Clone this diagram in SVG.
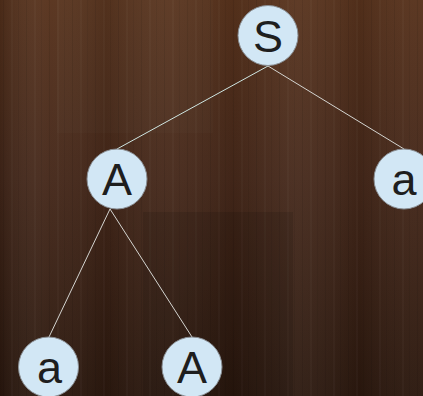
<svg xmlns="http://www.w3.org/2000/svg" width="423" height="396" viewBox="0 0 423 396">
<defs>
<linearGradient id="bg" x1="0" y1="0" x2="0" y2="1">
<stop offset="0" stop-color="#57321c"/>
<stop offset="0.45" stop-color="#45281a"/>
<stop offset="1" stop-color="#2b180e"/>
</linearGradient>
<linearGradient id="grain" x1="0" y1="0" x2="1" y2="0">
<stop offset="0" stop-color="#000" stop-opacity="0.15"/>
<stop offset="0.12" stop-color="#fff" stop-opacity="0.03"/>
<stop offset="0.25" stop-color="#000" stop-opacity="0.08"/>
<stop offset="0.4" stop-color="#fff" stop-opacity="0.04"/>
<stop offset="0.55" stop-color="#000" stop-opacity="0.06"/>
<stop offset="0.7" stop-color="#fff" stop-opacity="0.05"/>
<stop offset="0.85" stop-color="#000" stop-opacity="0.08"/>
<stop offset="1" stop-color="#fff" stop-opacity="0.03"/>
</linearGradient>
<pattern id="streaks" width="23" height="396" patternUnits="userSpaceOnUse">
<rect x="3" y="0" width="1" height="396" fill="#000" opacity="0.08"/>
<rect x="11" y="0" width="2" height="396" fill="#fff" opacity="0.025"/>
<rect x="18" y="0" width="1" height="396" fill="#000" opacity="0.06"/>
</pattern>
</defs>
<style>
.node circle { fill: #d2e7f5; stroke: #8a8f94; stroke-width: 1; }
.node text { font-family: "Liberation Sans", Arial, sans-serif; font-size: 45px; fill: #1e1e1e; text-anchor: middle; }
.edge { stroke: #d4d4d0; stroke-width: 1; fill: none; }
</style>
<rect width="423" height="396" fill="url(#bg)"/>
<rect width="423" height="396" fill="url(#grain)"/>
<rect width="423" height="396" fill="url(#streaks)"/>
<rect x="143" y="212" width="150" height="184" fill="#000" opacity="0.1"/>
<rect x="57" y="0" width="156" height="133" fill="#fff" opacity="0.015"/>
<g id="connectors">
<line class="edge" x1="268" y1="66" x2="117" y2="149" style="stroke:#cfe6e2"/>
<line class="edge" x1="268" y1="66" x2="404" y2="149"/>
<line class="edge" x1="110" y1="209" x2="49" y2="337"/>
<line class="edge" x1="110" y1="209" x2="192" y2="337"/>
</g>
<g id="node-S" class="node"><circle cx="268" cy="35.5" r="30"/><text x="268" y="52">S</text></g>
<g id="node-A1" class="node"><circle cx="117" cy="179" r="30"/><text x="117" y="195">A</text></g>
<g id="node-a1" class="node"><circle cx="404" cy="179" r="30"/><text x="404" y="195">a</text></g>
<g id="node-a2" class="node"><circle cx="48.5" cy="367" r="30"/><text x="49.5" y="383">a</text></g>
<g id="node-A2" class="node"><circle cx="192" cy="367" r="30"/><text x="192" y="383">A</text></g>
</svg>
